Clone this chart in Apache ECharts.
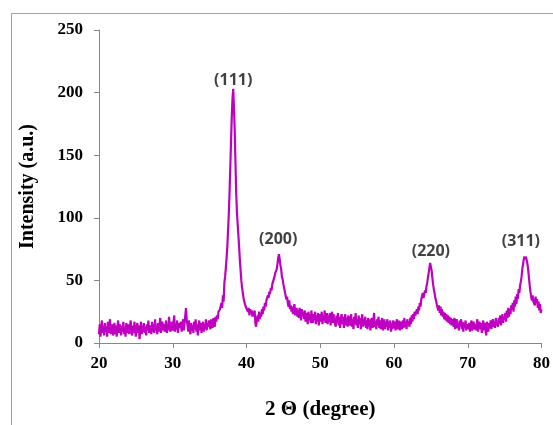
<!DOCTYPE html>
<html>
<head>
<meta charset="utf-8">
<script src="https://cdn.jsdelivr.net/npm/echarts@6/dist/echarts.min.js"></script>
<style>html,body{margin:0;padding:0;background:#fff;}#c{width:553px;height:425px;}</style>
</head>
<body>
<div id="c"></div>
<script>
// 2θ from 20 to 80 in 0.1° steps
var xStart = 20, xStep = 0.1;
var intensity = [
7,15,5,13,18,8,14,6,16,9,
13,5,17,8,14,19,7,12,15,6,
10,16,7,14,5,13,18,8,15,11,
6,14,9,17,7,13,5,16,10,8,
15,7,13,18,9,6,14,8,17,10,
5,13,16,8,14,3,12,17,7,14,
9,16,8,13,6,15,10,18,8,14,
12,7,17,9,15,8,19,10,14,7,
16,9,14,20,8,13,17,10,15,9,
13,18,8,15,10,21,11,9,17,12,
10,16,22,9,15,11,18,8,16,12,
11,17,9,15,19,10,16,22,28,18,
14,9,18,11,7,16,10,14,8,17,
11,19,9,15,6,14,18,10,16,8,
13,17,9,15,11,19,10,16,13,18,
14,11,19,15,12,20,16,13,21,17,
22,19,25,24,27,26,32,28,38,33,
48,53,60,68,77,90,103,120,140,160,
180,195,203,188,170,145,120,105,95,86,
77,66,58,50,44,40,36,33,31,29,
28,30,25,28,22,27,24,26,21,25,
21,26,16,13,18,22,17,25,19,24,
21,27,23,29,26,32,29,34,33,38,
36,41,39,44,42,47,48,51,53,56,
55,59,63,68,71,67,62,59,53,51,
47,44,41,38,35,37,32,29,34,27,
30,25,29,23,28,31,22,26,28,21,
26,20,28,22,18,27,21,25,19,26,
17,24,21,15,25,18,23,16,26,19,
16,23,18,25,15,22,17,24,14,21,
23,17,25,15,22,18,26,16,21,24,
15,22,17,24,14,21,25,16,23,18,
19,13,22,16,24,14,21,12,20,23,
15,21,12,19,23,14,20,13,22,16,
14,20,23,13,19,11,21,15,24,14,
19,12,22,15,20,11,18,23,13,19,
14,21,12,18,11,20,13,19,10,17,
20,12,18,24,13,17,11,19,14,21,
12,18,11,17,20,10,16,19,11,17,
13,19,10,17,12,18,9,16,11,18,
12,17,10,16,19,11,15,18,10,17,
15,11,18,12,20,13,17,11,19,14,
17,13,20,15,22,17,23,19,25,22,
22,27,23,29,26,32,29,35,36,40,
36,39,42,40,45,48,52,56,60,64,
65,58,52,47,43,40,36,34,31,30,
26,30,24,29,22,27,21,25,19,24,
18,23,17,22,16,21,15,20,14,19,
17,13,20,11,16,19,12,15,10,18,
13,19,11,17,9,16,12,18,10,15,
16,11,16,9,15,18,10,13,17,11,
15,10,15,19,9,14,17,11,16,8,
14,18,10,16,11,6,17,12,9,16,
12,18,11,16,19,13,17,12,20,14,
17,13,20,15,22,14,19,23,16,21,
19,24,17,26,20,28,21,27,23,30,
27,32,25,34,29,37,31,39,35,43,
40,46,49,53,59,63,67,69,67,69,
66,63,58,52,46,41,37,34,38,33,
34,30,37,32,35,28,33,26,31,24,
27
];
var peakLabels = ['(111)', '(200)', '(220)', '(311)'];
var peakX = [38.2, 44.3, 65.0, 77.2];
var peakY = [210, 83, 73, 81];
var xTicks = [20, 30, 40, 50, 60, 70, 80];
var yTicks = [0, 50, 100, 150, 200, 250];

var lineData = intensity.map(function (v, i) {
  return [+(xStart + i * xStep).toFixed(1), v];
});
var labelData = peakLabels.map(function (t, i) {
  return { value: [peakX[i], peakY[i]], name: t };
});

var chart = echarts.init(document.getElementById('c'));
var axisFont = { fontFamily: 'Liberation Serif', fontWeight: 'bold', fontSize: 17, color: '#000' };
chart.setOption({
  animation: false,
  backgroundColor: '#fff',
  graphic: [{
    type: 'rect', left: 9, top: 11,
    shape: { width: 700, height: 600 },
    style: { fill: 'none', stroke: '#a0a0a0', lineWidth: 1 },
    z: -1
  }],
  grid: { left: 99, right: 4, top: 30, bottom: 75 },
  xAxis: {
    type: 'value', min: xTicks[0], max: xTicks[xTicks.length - 1], interval: 10,
    name: '2 Θ (degree)', nameLocation: 'middle', nameGap: 56,
    nameTextStyle: { fontFamily: 'Liberation Serif', fontWeight: 'bold', fontSize: 21, color: '#000' },
    axisLine: { lineStyle: { color: '#888', width: 1 } },
    axisTick: { show: true, length: 5, lineStyle: { color: '#888' } },
    axisLabel: Object.assign({ margin: 12 }, axisFont),
    splitLine: { show: false }
  },
  yAxis: {
    type: 'value', min: yTicks[0], max: yTicks[yTicks.length - 1], interval: 50,
    name: 'Intensity (a.u.)', nameLocation: 'middle', nameGap: 61, nameRotate: 90,
    nameTextStyle: { fontFamily: 'Liberation Serif', fontWeight: 'bold', fontSize: 20, color: '#000' },
    axisLine: { show: true, lineStyle: { color: '#888', width: 1 } },
    axisTick: { show: true, length: 5, lineStyle: { color: '#888' } },
    axisLabel: Object.assign({ margin: 16 }, axisFont),
    splitLine: { show: false }
  },
  series: [{
    type: 'line', data: lineData, showSymbol: false, symbol: 'none',
    lineStyle: { color: '#c000c0', width: 2.2 }, clip: true
  }, {
    type: 'scatter', data: labelData, symbolSize: 0,
    label: {
      show: true, position: 'inside', formatter: function (p) { return p.name; },
      fontFamily: 'Open Sans', fontWeight: 'bold', fontSize: 16, color: '#111'
    }
  }]
});
</script>
</body>
</html>
